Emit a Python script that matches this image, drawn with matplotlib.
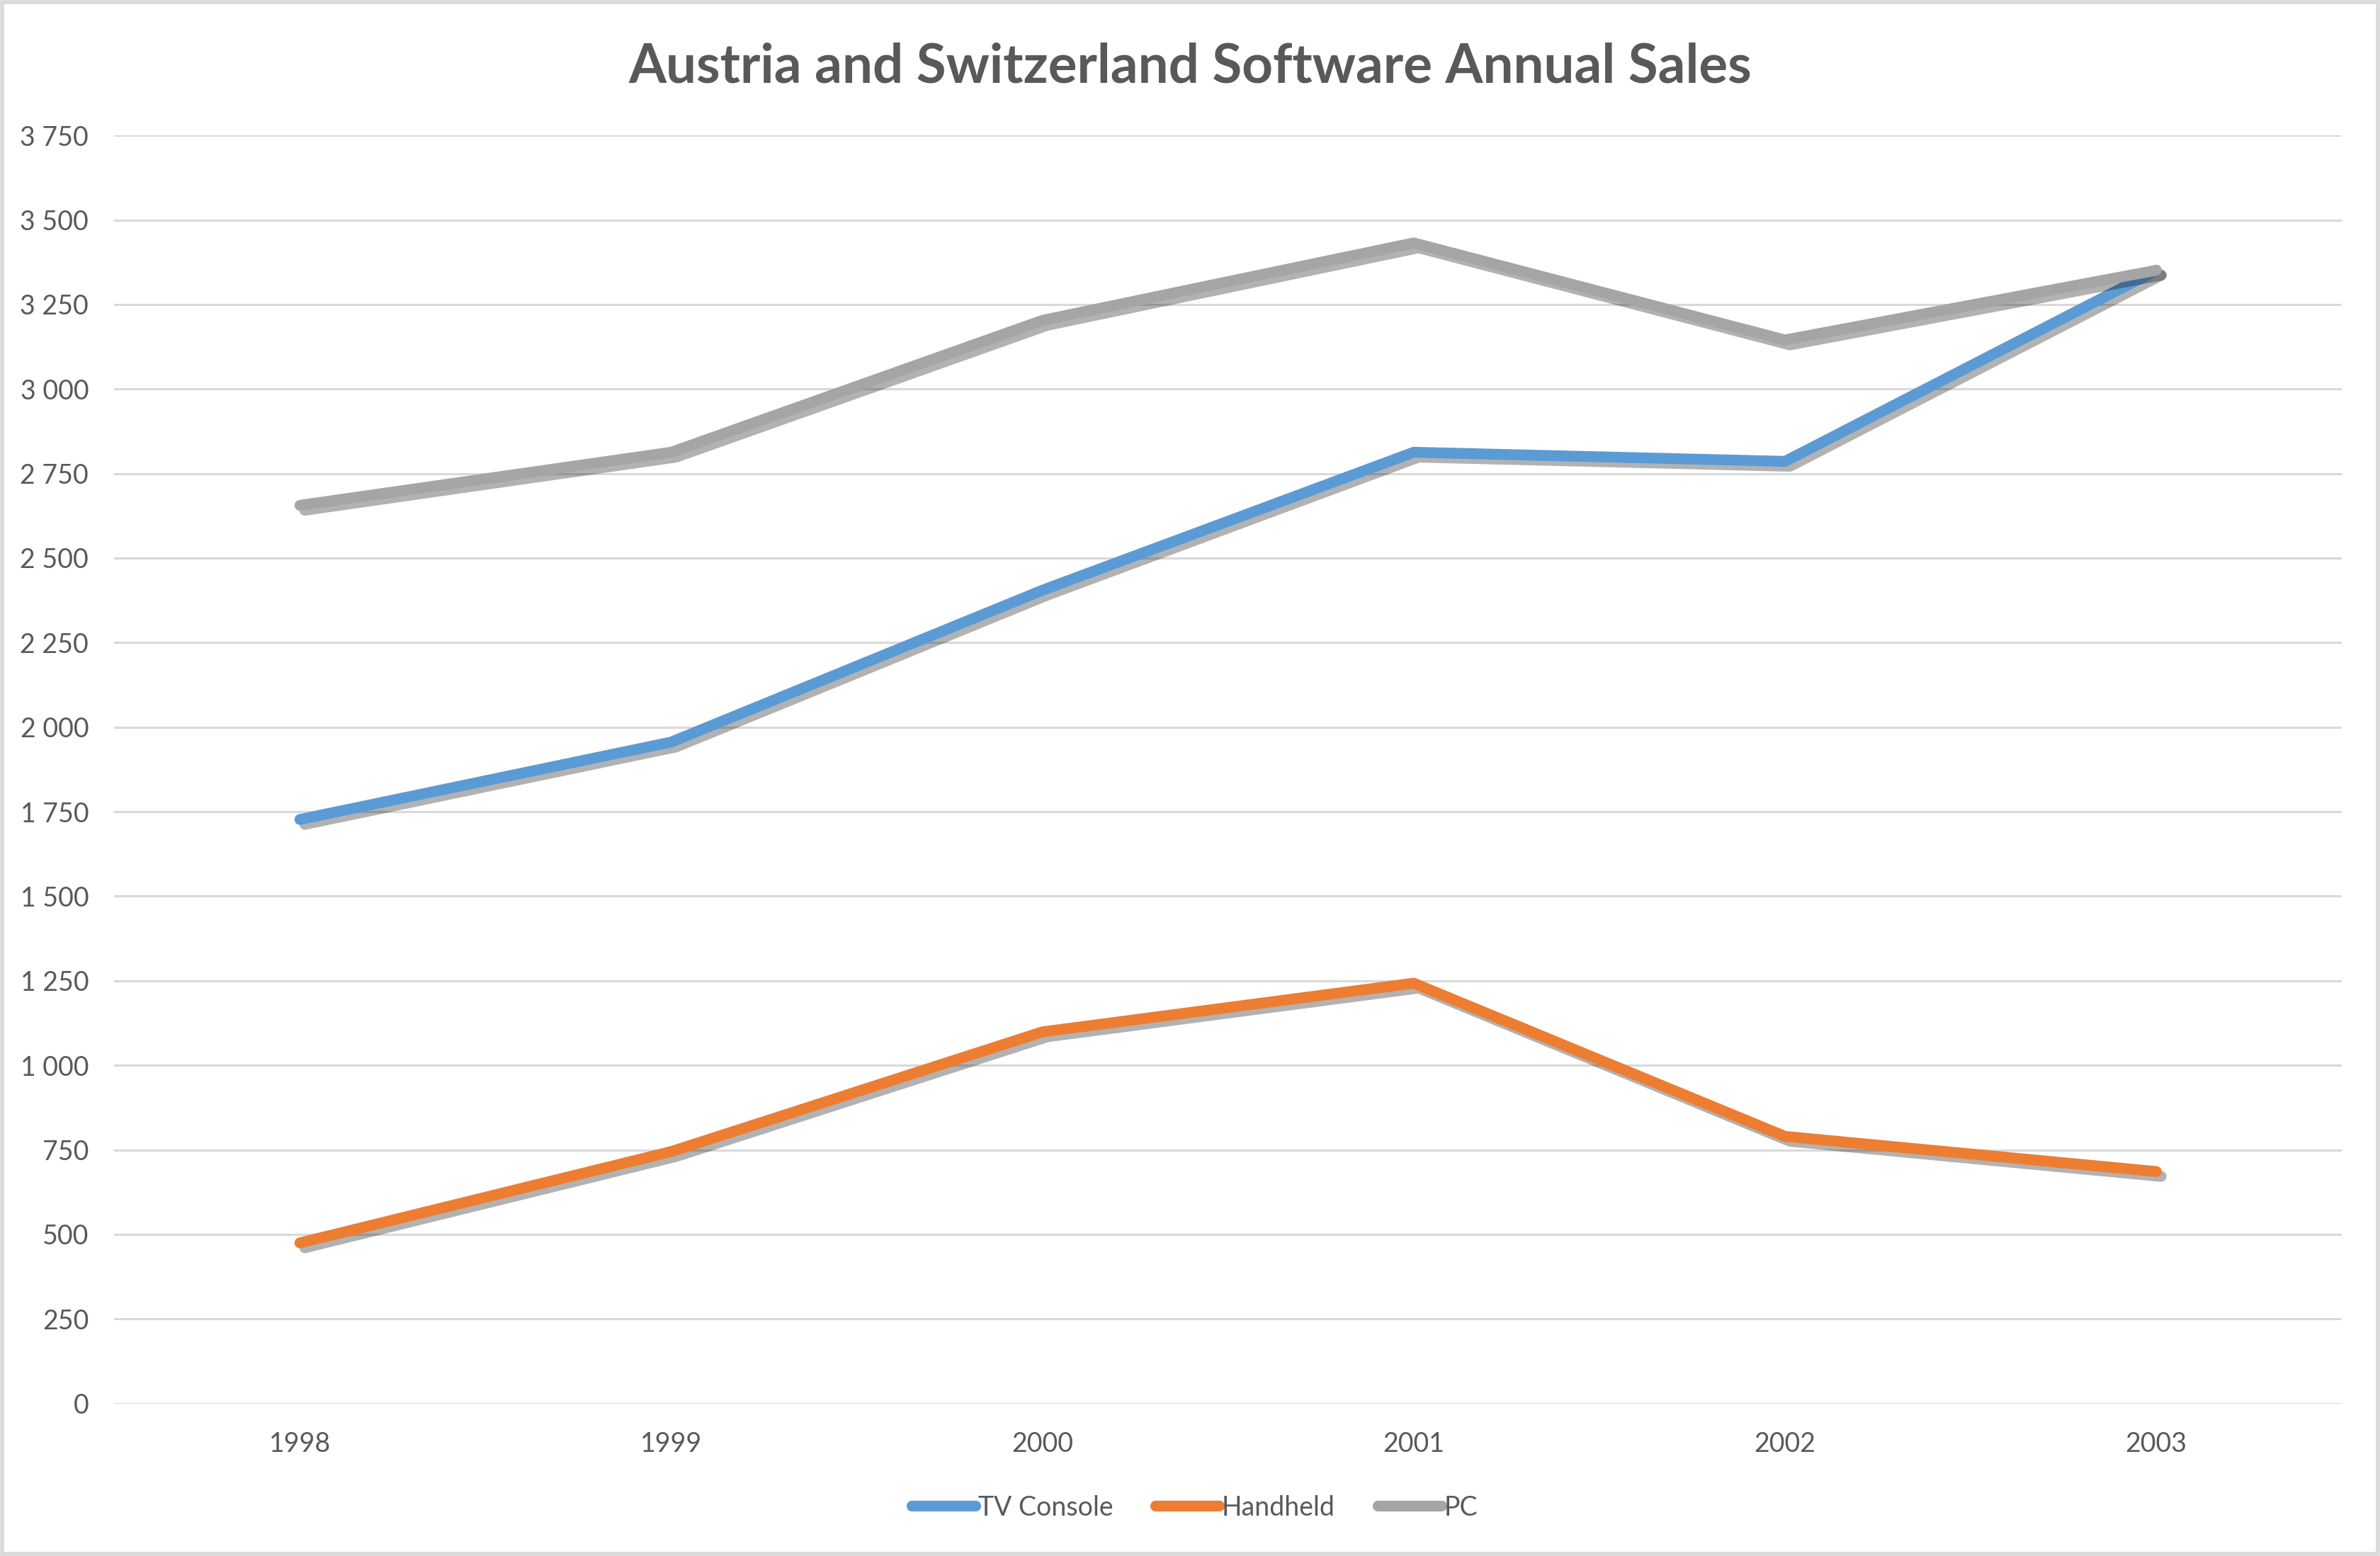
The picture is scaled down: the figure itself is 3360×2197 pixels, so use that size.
import matplotlib
matplotlib.use('Agg')
import matplotlib.pyplot as plt
import matplotlib.patheffects as pe
from matplotlib.ticker import FuncFormatter, MultipleLocator
from matplotlib.patches import Rectangle

years = ['1998', '1999', '2000', '2001', '2002', '2003']
tv_console = [1727, 1956, 2405, 2813, 2786, 3351]
handheld = [475, 745, 1099, 1243, 790, 686]
pc = [2656, 2813, 3203, 3432, 3145, 3351]

text_color = '#595959'
plt.rcParams['font.family'] = ['Lato', 'DejaVu Sans']

fig = plt.figure(figsize=(16.8, 10.985), dpi=200)
ax = fig.add_axes([0.048, 0.098, 0.936, 0.815])

x = range(len(years))
shadow = [pe.SimpleLineShadow(offset=(2.5, -2.5), shadow_color='black', alpha=0.3),
          pe.Normal()]
ax.plot(x, tv_console, color='#5B9BD5', lw=5.5, label='TV Console',
        solid_capstyle='round', path_effects=shadow, zorder=3)
ax.plot(x, handheld, color='#ED7D31', lw=5.5, label='Handheld',
        solid_capstyle='round', path_effects=shadow, zorder=3)
ax.plot(x, pc, color='#A5A5A5', lw=5.5, label='PC',
        solid_capstyle='round', path_effects=shadow, zorder=3)

ax.set_xlim(-0.5, len(years) - 0.5)
ax.set_ylim(0, 3750)
ax.set_xticks(list(x))
ax.set_xticklabels(years)
ax.yaxis.set_major_locator(MultipleLocator(250))
ax.yaxis.set_major_formatter(FuncFormatter(lambda v, p: format(int(v), ',').replace(',', ' ')))
ax.grid(axis='y', color='#D9D9D9', lw=1.1)
ax.set_axisbelow(True)
for s in ax.spines.values():
    s.set_visible(False)
ax.tick_params(axis='both', length=0, labelsize=13.5, labelcolor=text_color)
ax.tick_params(axis='y', pad=13)
ax.tick_params(axis='x', pad=14)

fig.suptitle('Austria and Switzerland Software Annual Sales', y=0.973,
             fontsize=27.5, fontweight='bold', color=text_color)

leg = ax.legend(loc='center', bbox_to_anchor=(0.485, -0.082), ncol=3, frameon=False,
                fontsize=13.5, handlelength=2.4, handletextpad=0.1, columnspacing=1.6)
for t in leg.get_texts():
    t.set_color(text_color)
for h in leg.get_lines():
    h.set_path_effects([])
    h.set_linewidth(5.5)

fig.patches.append(Rectangle((0.0008, 0.0012), 0.9984, 0.9976, transform=fig.transFigure,
                             fill=False, edgecolor='#D9D9D9', lw=2))

fig.savefig('out.png', dpi=200)
